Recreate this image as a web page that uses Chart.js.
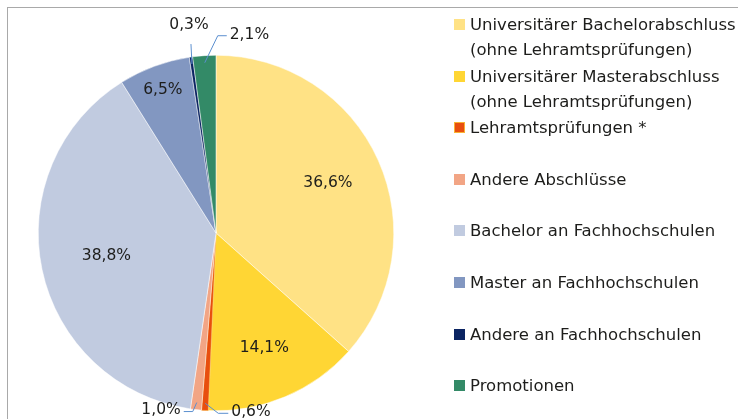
<!DOCTYPE html>
<html lang="de">
<head>
<meta charset="utf-8">
<script src="https://cdn.jsdelivr.net/npm/chart.js@4/dist/chart.umd.min.js"></script>
<style>
  html, body { margin: 0; padding: 0; background: #fff; }
  #wrap { position: relative; width: 738px; height: 419px; overflow: hidden; }
  #frame { position: absolute; left: 7px; top: 7px; width: 760px; height: 440px; border: 1px solid #a9a9a9; box-sizing: border-box; }
  #chart { position: absolute; left: 0; top: 0; }
  #legend { position: absolute; left: 454px; top: 12px; font-family: "DejaVu Sans", sans-serif; font-size: 16.5px; color: #1d1d1b; }
  .item { position: relative; height: 51.6px; }
  .box { position: absolute; left: 0; top: 7px; width: 11px; height: 11px; box-sizing: border-box; }
  .txt { position: absolute; left: 16px; top: 0; line-height: 25px; white-space: pre; }
</style>
</head>
<body>
<div id="wrap">
  <div id="frame"></div>
  <canvas id="chart" width="738" height="419"></canvas>
  <div id="legend"></div>
</div>
<script>
// Abschlussarten (Legende, Reihenfolge im Uhrzeigersinn ab 12 Uhr)
const categories = [
  'Universitärer Bachelorabschluss\n(ohne Lehramtsprüfungen)',
  'Universitärer Masterabschluss\n(ohne Lehramtsprüfungen)',
  'Lehramtsprüfungen *',
  'Andere Abschlüsse',
  'Bachelor an Fachhochschulen',
  'Master an Fachhochschulen',
  'Andere an Fachhochschulen',
  'Promotionen'
];

// Anteile in Prozent
const shares = [36.6, 14.1, 0.6, 1.0, 38.8, 6.5, 0.3, 2.1];

const colors = ['#FFE285', '#FFD634', '#E84E0F', '#F2A585', '#C1CBE0', '#8297C1', '#0B2462', '#338A67'];
const borders = ['#ffffff', '#ffffff', '#F9B233', '#ffffff', '#ffffff', '#ffffff', '#ffffff', '#ffffff'];

// Beschriftung: Abstand vom Mittelpunkt (Anteil am Radius) für große Stücke
const labelRadius = [0.69, 0.70, null, null, 0.63, 0.86, null, null];
// Führungslinien für kleine Stücke: Knick (dx, dy) und waagrechtes Stück h
const leaders = {
  2: { dx: 13, dy: 10, h: 10, align: 'left' },
  3: { dx: -4, dy: 9, h: -9, align: 'right' },
  6: { dx: -1, dy: -20, h: 0, align: 'center' },
  7: { dx: 13, dy: -27, h: 9, align: 'left' }
};

const fmt = v => v.toFixed(1).replace('.', ',') + '%';

// Prozentwerte + Führungslinien zeichnen
const pieLabels = {
  id: 'pieLabels',
  afterDatasetsDraw(chart) {
    const ctx = chart.ctx;
    const arcs = chart.getDatasetMeta(0).data;
    ctx.save();
    ctx.font = '15.5px "DejaVu Sans", sans-serif';
    ctx.fillStyle = '#1d1d1b';
    ctx.textBaseline = 'middle';
    arcs.forEach((arc, i) => {
      const { x, y, startAngle, endAngle, outerRadius } = arc.getProps(['x', 'y', 'startAngle', 'endAngle', 'outerRadius'], true);
      const mid = (startAngle + endAngle) / 2;
      const text = fmt(shares[i]);
      if (labelRadius[i] !== null) {
        const r = outerRadius * labelRadius[i];
        ctx.textAlign = 'center';
        ctx.fillText(text, x + Math.cos(mid) * r, y + Math.sin(mid) * r);
        return;
      }
      const l = leaders[i];
      const sx = x + Math.cos(mid) * outerRadius * 0.96;
      const sy = y + Math.sin(mid) * outerRadius * 0.96;
      const ex = sx + l.dx, ey = sy + l.dy;
      ctx.strokeStyle = '#5B8FCF';
      ctx.lineWidth = 1;
      ctx.beginPath();
      ctx.moveTo(sx, sy);
      ctx.lineTo(ex, ey);
      ctx.lineTo(ex + l.h, ey);
      ctx.stroke();
      if (l.align === 'center') {
        ctx.textAlign = 'center';
        ctx.fillText(text, ex - 2, ey - 19);
      } else if (l.align === 'left') {
        ctx.textAlign = 'left';
        ctx.fillText(text, ex + l.h + 3, ey - 1);
      } else {
        ctx.textAlign = 'right';
        ctx.fillText(text, ex + l.h - 3, ey - 2);
      }
    });
    ctx.restore();
  }
};

const chart = new Chart(document.getElementById('chart'), {
  type: 'pie',
  data: {
    labels: categories,
    datasets: [{
      data: shares,
      backgroundColor: colors,
      borderColor: borders,
      borderWidth: 0.5
    }]
  },
  options: {
    responsive: false,
    animation: false,
    layout: { padding: { left: 38, top: 55, right: 344, bottom: 8 } },
    plugins: {
      legend: { display: false },
      tooltip: { enabled: false }
    }
  },
  plugins: [pieLabels]
});

// Legende als HTML aus denselben Arrays
const legend = document.getElementById('legend');
categories.forEach((name, i) => {
  const item = document.createElement('div');
  item.className = 'item';
  const box = document.createElement('span');
  box.className = 'box';
  box.style.background = colors[i];
  if (borders[i] !== '#ffffff') box.style.border = '1px solid ' + borders[i];
  const txt = document.createElement('span');
  txt.className = 'txt';
  txt.textContent = name;
  item.appendChild(box);
  item.appendChild(txt);
  legend.appendChild(item);
});
</script>
</body>
</html>
